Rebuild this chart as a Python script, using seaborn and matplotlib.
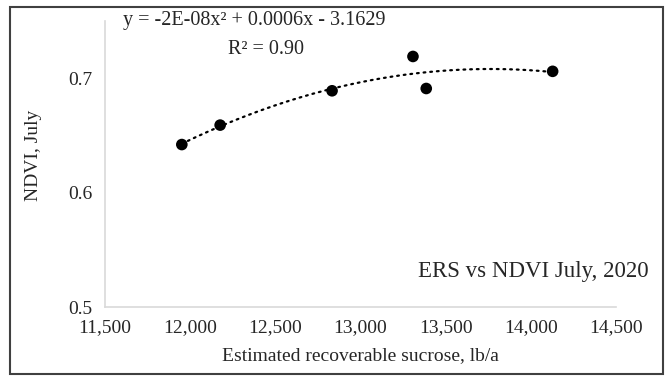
import matplotlib

matplotlib.use("Agg")

import matplotlib.pyplot as plt
import numpy as np
import seaborn as sns
from matplotlib.patches import Rectangle
from matplotlib.ticker import FuncFormatter

# values
ers = [11951, 12176, 12833, 13308, 13386, 14128]
ndvi = [0.642, 0.659, 0.689, 0.719, 0.691, 0.706]
x_ticks = [11500, 12000, 12500, 13000, 13500, 14000, 14500]
y_ticks = [0.5, 0.6, 0.7]
equation = "y = -2E-08x² + 0.0006x - 3.1629"
r_squared = "R² = 0.90"

sns.set_style("white")
plt.rcParams["font.family"] = ["Liberation Serif", "DejaVu Serif"]

fig = plt.figure(figsize=(6.65, 3.77), dpi=100)
ax = fig.add_axes([105 / 665, 1 - 307 / 377, (616 - 105) / 665, (307 - 21) / 377])

# second order polynomial trendline, as in the spreadsheet
coef = np.polyfit(ers, ndvi, 2)
xs = np.linspace(min(ers), max(ers), 200)
ax.plot(xs, np.polyval(coef, xs), color="black", linewidth=1.6,
        linestyle=(0, (0.8, 2.2)), dash_capstyle="round", zorder=2)

sns.scatterplot(x=ers, y=ndvi, color="black", s=70, edgecolor="none", ax=ax, zorder=3)

ax.set_xlim(11500, 14500)
ax.set_ylim(0.5, 0.75)
ax.set_xticks(x_ticks)
ax.set_yticks(y_ticks)
ax.xaxis.set_major_formatter(FuncFormatter(lambda v, p: f"{v:,.0f}"))
ax.yaxis.set_major_formatter(FuncFormatter(lambda v, p: f"{v:.1f}"))
ax.tick_params(axis="both", labelsize=14, length=5, width=1, color="#d9d9d9", pad=4)

for side in ["top", "right"]:
    ax.spines[side].set_visible(False)
for side in ["left", "bottom"]:
    ax.spines[side].set_color("#d9d9d9")
    ax.spines[side].set_linewidth(1.2)

fig.text(33 / 665, 1 - 155 / 377, "NDVI, July", rotation=90, fontsize=14,
         ha="center", va="center")
fig.text(0.5 * (105 + 616) / 665, 1 - 356 / 377, "Estimated recoverable sucrose, lb/a",
         fontsize=14, ha="center", va="center")

fig.text(123 / 665, 1 - 20 / 377, equation, fontsize=14.5, ha="left", va="center")
fig.text(228 / 665, 1 - 49 / 377, r_squared, fontsize=14.5, ha="left", va="center")
fig.text(0.975, 1 - 271 / 377, "ERS vs NDVI July, 2020", fontsize=16.5,
         ha="right", va="center")

# chart area border
fig.patches.append(Rectangle((10 / 665, 3 / 377), 653 / 665, 367 / 377,
                             transform=fig.transFigure, fill=False,
                             edgecolor="#404040", linewidth=1.5))

fig.savefig("out.png", dpi=100)
plt.close(fig)
